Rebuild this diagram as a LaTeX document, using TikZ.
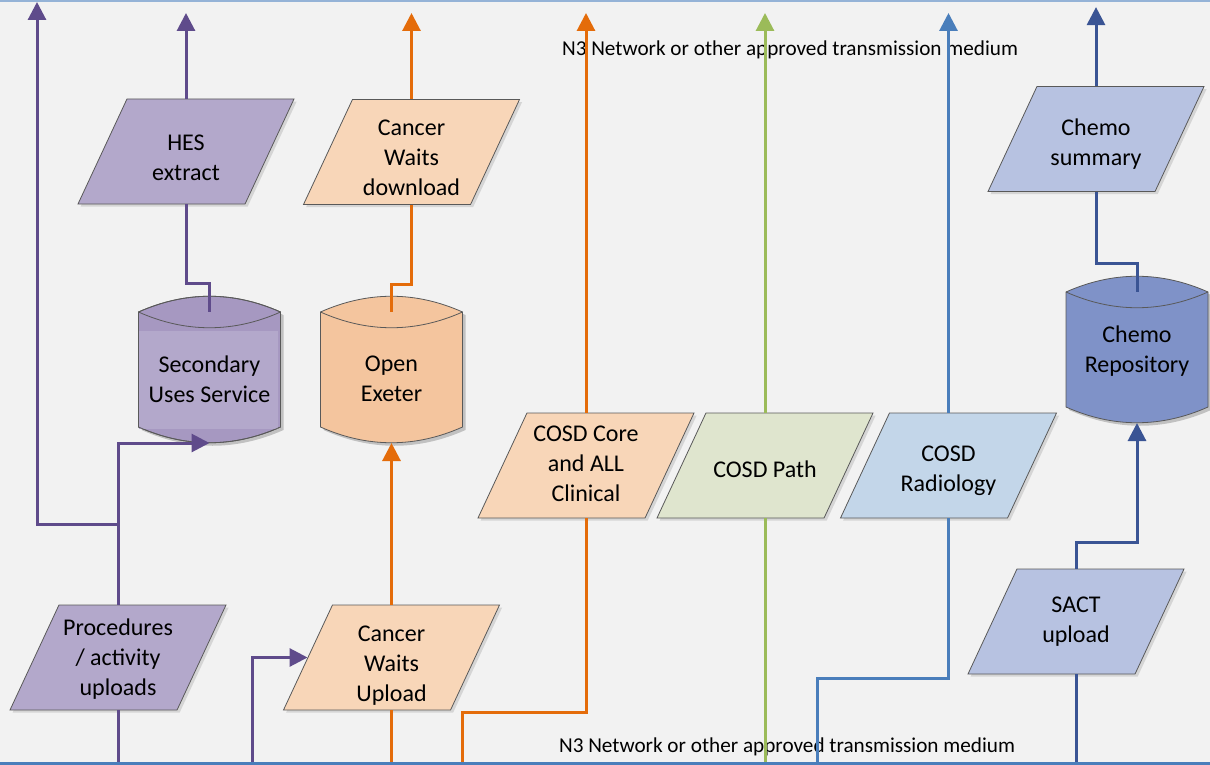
\documentclass[tikz,border=0pt]{standalone}
\usepackage{fontspec}
\setmainfont{Carlito}
\usetikzlibrary{shapes.geometric}
\usetikzlibrary{arrows.meta}
\usetikzlibrary{calc}
\usetikzlibrary{shadows}

\definecolor{bgcol}{HTML}{F2F2F2}
\definecolor{framecol}{HTML}{95B3D7}
\definecolor{buscol}{HTML}{4A7EBB}
\definecolor{purpline}{HTML}{5F4B8B}
\definecolor{purpfill}{HTML}{B3A8CB}
\definecolor{susdark}{HTML}{A698C1}
\definecolor{orgline}{HTML}{E46C0A}
\definecolor{orgfill}{HTML}{F8D6B8}
\definecolor{exefill}{HTML}{F4C59E}
\definecolor{grnline}{HTML}{9BBB59}
\definecolor{grnfill}{HTML}{DFE5CE}
\definecolor{bluline}{HTML}{4A7EBB}
\definecolor{blufill}{HTML}{C3D6E9}
\definecolor{navline}{HTML}{3A5494}
\definecolor{navfill}{HTML}{B7C2E1}
\definecolor{repofill}{HTML}{7F92C8}

\newcommand{\nodefont}{\fontsize{12}{15}\selectfont}
\newcommand{\mediumfont}{\fontsize{10.6}{12}\selectfont}

\tikzset{
  datain/.style={trapezium, trapezium left angle=65, trapezium right angle=115,
    trapezium stretches body, minimum width=108pt, inner xsep=10pt, inner ysep=26.25pt,
    draw=black!65, line width=0.4pt,
    drop shadow={shadow xshift=1.3pt, shadow yshift=-1.3pt, opacity=.25}},
  textin/.style={align=center, font=\nodefont, inner sep=0pt},
  drumline/.style={draw=black!65, line width=0.4pt},
  medium/.style={font=\mediumfont, inner sep=0pt},
  link/.style={line width=1.5pt},
  feed/.style={link, -{Triangle[length=9pt,width=9pt]}}
}

% outline of a data store round a coordinate
\newcommand{\drumpath}[1]{($(#1)+(-71,-57.5)$) .. controls +(47,-21) and +(-47,-21) .. ($(#1)+(71,-57.5)$) -- ($(#1)+(71,57.5)$) .. controls +(-47,21) and +(47,21) .. ($(#1)+(-71,57.5)$) -- cycle}
\newcommand{\drum}[3]{%
  \coordinate (#1-c) at (#2);
  \coordinate (#1-s) at ($(#1-c)+(3,3)$);
  \fill[black, opacity=.2] \drumpath{#1-s};
  \filldraw[drumline, fill=#3] \drumpath{#1-c};
  \draw[drumline] ($(#1-c)+(-71,-57.5)$) .. controls +(47,21) and +(-47,21) .. ($(#1-c)+(71,-57.5)$);
}

\begin{document}
\begin{tikzpicture}[x=0.5pt,y=-0.5pt]
\useasboundingbox (0,0) rectangle (1210,765);
\fill[bgcol] (0,0) rectangle (1210,765);
\draw[framecol, line width=1pt] (0,1) -- (1210,1);

\coordinate (topline) at (0,13);
\coordinate (bus) at (0,763);

\node[medium] (n3top) at (790,50) {N3 Network or other approved transmission medium};
\node[medium] (n3bot) at (787,747) {N3 Network or other approved transmission medium};

%stores
\drum{sus}{209.5,369.5}{susdark}
\fill[purpfill] ($(sus-c)+(-70.3,-38.5)$) rectangle ($(sus-c)+(68.5,59)$);
\draw[drumline] \drumpath{sus-c};
\drum{exe}{391.5,369.5}{exefill}
\drum{repo}{1137,349.5}{repofill}

\node[textin] (sus) at (209.5,379) {Secondary\\Uses Service};
\node[textin] (exe) at (391.5,379) {Open\\Exeter};
\node[textin] (repo) at (1137,351) {Chemo\\Repository};

%data flows
\node[datain, fill=purpfill, label={[textin, name=hes-t, yshift=-3pt]center:{HES\\extract}}] (hes) at (186,151.5) {};
\node[datain, fill=orgfill, label={[textin, name=cwd-t, yshift=-3pt]center:{Cancer\\Waits\\download}}] (cwd) at (411.5,152) {};
\node[datain, fill=purpfill, label={[textin, name=proc-t, yshift=-1pt]center:{Procedures\\/ activity\\uploads}}] (proc) at (118,657.5) {};
\node[datain, fill=orgfill, label={[textin, name=cwu-t, yshift=-4pt]center:{Cancer\\Waits\\Upload}}] (cwu) at (391.5,657.5) {};
\node[datain, fill=orgfill, label={[textin, name=core-t, yshift=1pt]center:{COSD Core\\and ALL\\Clinical}}] (core) at (586,465.5) {};
\node[datain, fill=grnfill, label={[textin, name=path-t, yshift=-2pt]center:{COSD Path}}] (path) at (765,465.5) {};
\node[datain, fill=blufill, label={[textin, name=radio-t, yshift=-2.5pt]center:{COSD\\Radiology}}] (radio) at (948.5,465.5) {};
\node[datain, fill=navfill, label={[textin, name=sact-t]center:{SACT\\upload}}] (sact) at (1076,621.5) {};
\node[datain, fill=navfill, label={[textin, name=chsum-t, yshift=-2.75pt]center:{Chemo\\summary}}] (chsum) at (1096,139) {};

\coordinate (topL) at (37,2);
\coordinate (cwuIn) at (252,763);
\coordinate (coreIn) at (462,763);
\coordinate (radIn) at (817,763);

%purple
\draw[feed, purpline] (proc.north) -- ++(0,-80) -| (topL);
\draw[feed, purpline] (proc.north) |- ($(sus-c)+(0,73.5)$);
\draw[link, purpline] (proc.south) -- (proc.south |- bus);
\draw[feed, purpline] (cwuIn) |- (cwu.west);
\draw[feed, purpline] (hes.north) -- (hes.north |- topline);
\draw[link, purpline] (hes.south) -- ++(0,79) -| ($(sus-c)+(0,-57.5)$);

%orange
\draw[feed, orgline] (cwd.north) -- (cwd.north |- topline);
\draw[link, orgline] (cwd.south) -- ++(0,80) -| ($(exe-c)+(0,-57.5)$);
\draw[feed, orgline] (cwu.north) -- ($(exe-c)+(0,73.5)$);
\draw[link, orgline] (cwu.south) -- (cwu.south |- bus);
\draw[link, orgline] (coreIn) -- ++(0,-51) -| (core.south);
\draw[feed, orgline] (core.north) -- (core.north |- topline);

%green
\draw[link, grnline] (path.south) -- (path.south |- bus);
\draw[feed, grnline] (path.north) -- (path.north |- topline);

%blue
\draw[link, bluline] (radIn) -- ++(0,-85) -| (radio.south);
\draw[feed, bluline] (radio.north) -- (radio.north |- topline);

%navy
\draw[link, navline] (sact.south) -- (sact.south |- bus);
\draw[feed, navline] (sact.north) -- ++(0,-26) -| ($(repo-c)+(0,73.5)$);
\draw[link, navline] (chsum.south) -- ++(0,72) -| ($(repo-c)+(0,-57.5)$);
\draw[feed, navline] (chsum.north) -- ++(0,-79);

\draw[buscol, line width=1.5pt] (bus) -- (1210,763);
\end{tikzpicture}
\end{document}
